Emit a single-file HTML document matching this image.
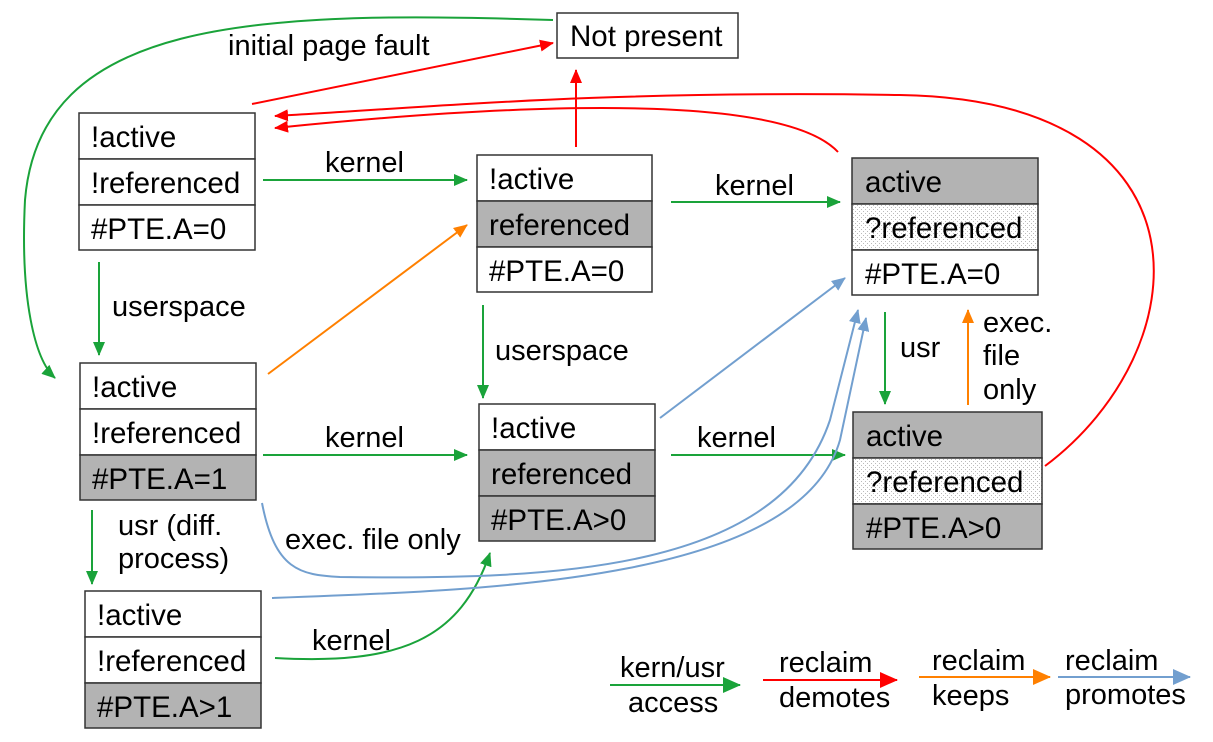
<!DOCTYPE html>
<html><head><meta charset="utf-8"><style>
html,body{margin:0;padding:0;background:#fff;}
svg{display:block;font-family:"Liberation Sans",sans-serif;}
</style></head><body>
<svg width="1213" height="742" viewBox="0 0 1213 742" xmlns="http://www.w3.org/2000/svg">
<defs>
<pattern id="dots" width="4" height="4" patternUnits="userSpaceOnUse"><rect width="4" height="4" fill="#fff"/><rect x="1" y="1" width="1" height="1" fill="#bbb"/><rect x="3" y="3" width="1" height="1" fill="#bbb"/></pattern>
<marker id="g" markerWidth="14" markerHeight="12" refX="13" refY="6" orient="auto" markerUnits="userSpaceOnUse"><path d="M0,0L14,6L0,12z" fill="#1aa33a"/></marker>
<marker id="r" markerWidth="14" markerHeight="12" refX="13" refY="6" orient="auto" markerUnits="userSpaceOnUse"><path d="M0,0L14,6L0,12z" fill="#ff0000"/></marker>
<marker id="o" markerWidth="14" markerHeight="12" refX="13" refY="6" orient="auto" markerUnits="userSpaceOnUse"><path d="M0,0L14,6L0,12z" fill="#ff8000"/></marker>
<marker id="b" markerWidth="14" markerHeight="12" refX="13" refY="6" orient="auto" markerUnits="userSpaceOnUse"><path d="M0,0L14,6L0,12z" fill="#729fcf"/></marker>
<marker id="gL" markerWidth="18" markerHeight="16" refX="17" refY="8" orient="auto" markerUnits="userSpaceOnUse"><path d="M0,0L18,8L0,16z" fill="#1aa33a"/></marker>
<marker id="rL" markerWidth="18" markerHeight="16" refX="17" refY="8" orient="auto" markerUnits="userSpaceOnUse"><path d="M0,0L18,8L0,16z" fill="#ff0000"/></marker>
<marker id="oL" markerWidth="18" markerHeight="16" refX="17" refY="8" orient="auto" markerUnits="userSpaceOnUse"><path d="M0,0L18,8L0,16z" fill="#ff8000"/></marker>
<marker id="bL" markerWidth="18" markerHeight="16" refX="17" refY="8" orient="auto" markerUnits="userSpaceOnUse"><path d="M0,0L18,8L0,16z" fill="#729fcf"/></marker>
</defs>
<g stroke-width="2" fill="none">
<g stroke="#1aa33a">
<path d="M263,180L467,180" marker-end="url(#g)"/>
<path d="M671,202L840,202" marker-end="url(#g)"/>
<path d="M263,455L467,455" marker-end="url(#g)"/>
<path d="M671,455L845,455" marker-end="url(#g)"/>
<path d="M99,262L99,355" marker-end="url(#g)"/>
<path d="M483,305L483,398" marker-end="url(#g)"/>
<path d="M885,312L885,404" marker-end="url(#g)"/>
<path d="M92,510L92,584" marker-end="url(#g)"/>
<path d="M275,658C400,665 460,640 490,553" marker-end="url(#g)"/>
<path d="M553,20C250,10 40,20 25,200C20,300 35,360 55,378" marker-end="url(#g)"/>
</g>
<g stroke="#ff0000">
<path d="M252,104L553,43" marker-end="url(#r)"/>
<path d="M576,147L576,70" marker-end="url(#r)"/>
<path d="M838,152C780,90 500,105 275,128" marker-end="url(#r)"/>
<path d="M1045,466C1200,350 1220,100 900,95C600,90 420,108 275,116" marker-end="url(#r)"/>
</g>
<g stroke="#ff8000">
<path d="M968,405L968,310" marker-end="url(#o)"/>
<path d="M268,374L467,225" marker-end="url(#o)"/>
</g>
<g stroke="#729fcf">
<path d="M660,418L845,278" marker-end="url(#b)"/>
<path d="M262,503C275,570 300,575 340,577C560,580 780,570 830,420L858,310" marker-end="url(#b)"/>
<path d="M272,598C500,590 800,580 840,440L866,318" marker-end="url(#b)"/>
</g>
<path d="M610,685L740,685" stroke="#1aa33a" marker-end="url(#gL)"/>
<path d="M763,680L897,680" stroke="#ff0000" marker-end="url(#rL)"/>
<path d="M919,677L1050,677" stroke="#ff8000" marker-end="url(#oL)"/>
<path d="M1058,677L1190,677" stroke="#729fcf" marker-end="url(#bL)"/>
</g>
<g stroke="#333" stroke-width="1.5">
<rect x="557" y="13" width="181" height="45" fill="#fff"/>
<rect x="79" y="113" width="176" height="46" fill="#fff"/><rect x="79" y="159" width="176" height="46" fill="#fff"/><rect x="79" y="205" width="176" height="45" fill="#fff"/>
<rect x="477" y="155" width="175" height="46" fill="#fff"/><rect x="477" y="201" width="175" height="46" fill="#b3b3b3"/><rect x="477" y="247" width="175" height="45" fill="#fff"/>
<rect x="852" y="158" width="186" height="46" fill="#b3b3b3"/><rect x="852" y="204" width="186" height="46" fill="url(#dots)"/><rect x="852" y="250" width="186" height="45" fill="#fff"/>
<rect x="80" y="363" width="176" height="46" fill="#fff"/><rect x="80" y="409" width="176" height="46" fill="#fff"/><rect x="80" y="455" width="176" height="45" fill="#b3b3b3"/>
<rect x="479" y="404" width="176" height="46" fill="#fff"/><rect x="479" y="450" width="176" height="46" fill="#b3b3b3"/><rect x="479" y="496" width="176" height="45" fill="#b3b3b3"/>
<rect x="853" y="412" width="189" height="46" fill="#b3b3b3"/><rect x="853" y="458" width="189" height="46" fill="url(#dots)"/><rect x="853" y="504" width="189" height="45" fill="#b3b3b3"/>
<rect x="85" y="591" width="176" height="46" fill="#fff"/><rect x="85" y="637" width="176" height="46" fill="#fff"/><rect x="85" y="683" width="176" height="45" fill="#b3b3b3"/>
</g>
<g font-size="29.5" fill="#000">
<text x="570" y="46">Not present</text>
<text x="91" y="147">!active</text><text x="91" y="193">!referenced</text><text x="91" y="239">#PTE.A=0</text>
<text x="489" y="189">!active</text><text x="489" y="235">referenced</text><text x="489" y="281">#PTE.A=0</text>
<text x="865" y="192">active</text><text x="865" y="238">?referenced</text><text x="865" y="284">#PTE.A=0</text>
<text x="92" y="397">!active</text><text x="92" y="443">!referenced</text><text x="92" y="489">#PTE.A=1</text>
<text x="491" y="438">!active</text><text x="491" y="484">referenced</text><text x="491" y="530">#PTE.A&gt;0</text>
<text x="866" y="446">active</text><text x="866" y="492">?referenced</text><text x="866" y="538">#PTE.A&gt;0</text>
<text x="97" y="625">!active</text><text x="97" y="671">!referenced</text><text x="97" y="717">#PTE.A&gt;1</text>
</g>
<g font-size="29" fill="#000">
<text x="228" y="55">initial page fault</text>
<text x="325" y="172">kernel</text>
<text x="715" y="195">kernel</text>
<text x="325" y="447">kernel</text>
<text x="697" y="447">kernel</text>
<text x="112" y="316">userspace</text>
<text x="495" y="360">userspace</text>
<text x="900" y="357">usr</text>
<text x="983" y="332">exec.</text><text x="983" y="365">file</text><text x="983" y="399">only</text>
<text x="118" y="535">usr (diff.</text><text x="118" y="568">process)</text>
<text x="285" y="549">exec. file only</text>
<text x="312" y="650">kernel</text>
<text x="620" y="677">kern/usr</text><text x="628" y="712">access</text>
<text x="779" y="672">reclaim</text><text x="779" y="707">demotes</text>
<text x="932" y="670">reclaim</text><text x="932" y="705">keeps</text>
<text x="1065" y="670">reclaim</text><text x="1065" y="704">promotes</text>
</g>
</svg>
</body></html>
